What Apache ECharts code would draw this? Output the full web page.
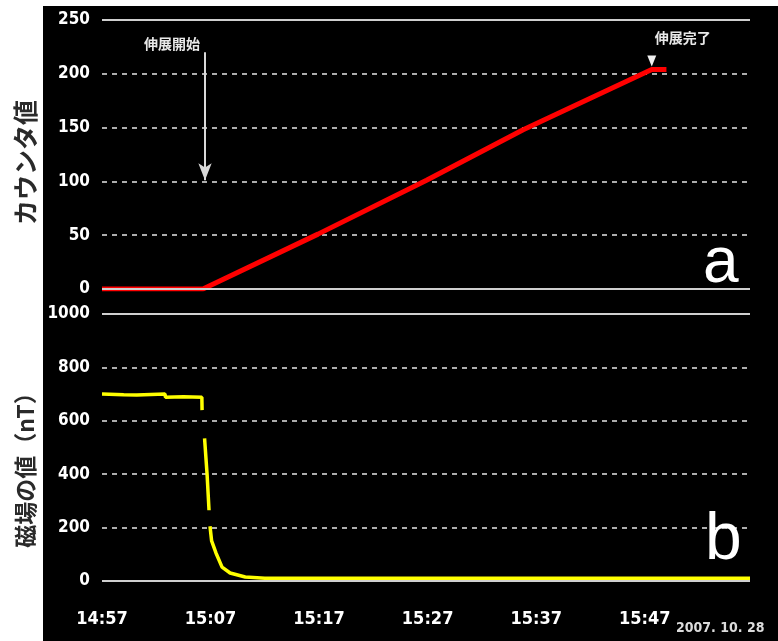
<!DOCTYPE html>
<html>
<head>
<meta charset="utf-8">
<script src="https://cdn.jsdelivr.net/npm/echarts@6/dist/echarts.min.js"></script>
<style>
  html, body { margin: 0; padding: 0; background: #fff; }
  #panel { position: absolute; left: 43px; top: 6px; width: 735px; height: 635px; background: #000; }
  #chart { position: absolute; left: 0; top: 0; width: 778px; height: 641px; }
</style>
</head>
<body>
<div id="panel"></div>
<div id="chart"></div>
<script>
// Elapsed minutes from 14:57 (2007.10.28)
const startMinuteOfDay = 14 * 60 + 57;
const xMax = 59.7;

// (a) counter value during boom extension
const counterTime  = [0, 9.3, 19.9, 29.9, 38.8, 50.65, 52];
const counterValue = [0, 0,   51,   101,  148,  204,   204];

// (b) magnetic field (nT); null marks gaps in the record
const magTime  = [0,   2.0, 3.2, 5.8, 5.85, 7.5, 9.2, 9.22, 9.3,  9.45, 9.68, 9.86, 9.9,  9.95, 10.1, 10.5, 11.06, 11.8, 13.2, 15, 30, 45, 59.7];
const magValue = [700, 698, 697, 700, 688,  690, 688, 640,  null, 534,  400,  265,  null, 205,  150,  105,  52,    30,   15,   10, 10, 10, 10];

// isolated red samples near the end of the magnetic record
const spikeTime  = [54.0, 56.2];
const spikeValue = [-2, -2];

// axis ticks
const counterTicks = { min: 0, max: 250, interval: 50 };
const magTicks     = { min: 0, max: 1000, interval: 200 };
const timeTicks    = { min: 0, interval: 10 };

// annotations
const startArrow = { t: 9.49, from: 220, to: 101, text: '伸展開始', textT: 6.45, textV: 228 };
const endMark    = { t: 50.65, v: 212, text: '伸展完了', textT: 53.5, textV: 234 };

const pairs = (xs, ys) => xs.map((x, i) => [x, ys[i]]);
const fmtTime = v => {
  const m = Math.round(startMinuteOfDay + v);
  const hh = Math.floor(m / 60), mm = m % 60;
  return hh + ':' + String(mm).padStart(2, '0');
};

const tickFont = { color: '#fff', fontFamily: 'DejaVu Sans Condensed', fontWeight: 'bold', fontSize: 17 };
const dashed = { show: true, lineStyle: { color: '#e6e6e6', width: 1.5, type: [5, 5] } };
const solidRef = { color: '#cfcfcf', width: 2, type: 'solid' };
const titleFont = { fontFamily: 'Noto Sans CJK JP', fontWeight: 'bold', color: '#2a2a2a' };
const noteFont = { color: '#e8e8e8', fontFamily: 'Noto Sans CJK JP', fontWeight: 'bold', fontSize: 14 };

const chart = echarts.init(document.getElementById('chart'), null, { renderer: 'canvas' });
chart.setOption({
  backgroundColor: 'transparent',
  animation: false,
  grid: [
    { left: 102, right: 28, top: 20, height: 269 },
    { left: 102, right: 28, top: 314, height: 267 }
  ],
  xAxis: [
    { gridIndex: 0, type: 'value', min: timeTicks.min, max: xMax, interval: timeTicks.interval,
      axisLine: { show: false }, axisTick: { show: false }, axisLabel: { show: false }, splitLine: { show: false } },
    { gridIndex: 1, type: 'value', min: timeTicks.min, max: xMax, interval: timeTicks.interval,
      axisLine: { show: false }, axisTick: { show: false }, splitLine: { show: false },
      axisLabel: Object.assign({ margin: 29, formatter: fmtTime, showMaxLabel: false }, tickFont, { fontSize: 18 }) }
  ],
  yAxis: [
    { gridIndex: 0, type: 'value', min: counterTicks.min, max: counterTicks.max, interval: counterTicks.interval,
      axisLine: { show: false }, axisTick: { show: false }, splitLine: dashed,
      axisLabel: Object.assign({ margin: 12, formatter: v => String(v) }, tickFont),
      name: 'カウンタ値', nameLocation: 'middle', nameGap: 64,
      nameTextStyle: Object.assign({ fontSize: 25, padding: [0, 16, 0, 0] }, titleFont) },
    { gridIndex: 1, type: 'value', min: magTicks.min, max: magTicks.max, interval: magTicks.interval,
      axisLine: { show: false }, axisTick: { show: false }, splitLine: dashed,
      axisLabel: Object.assign({ margin: 12, formatter: v => String(v) }, tickFont),
      name: '磁場の値（nT）', nameLocation: 'middle', nameGap: 62,
      nameTextStyle: Object.assign({ fontSize: 23, padding: [0, 34, 0, 0] }, titleFont) }
  ],
  series: [
    { // frame of panel a + extension annotations
      type: 'line', xAxisIndex: 0, yAxisIndex: 0, data: [], z: 1, silent: true,
      markLine: {
        silent: true, animation: false, symbol: 'none', label: { show: false }, lineStyle: solidRef,
        data: [
          { yAxis: counterTicks.max },
          { yAxis: 0 },
          [
            { coord: [startArrow.t, startArrow.from], symbol: 'none',
              lineStyle: { color: '#d8d8d8', width: 2, type: 'solid' } },
            { coord: [startArrow.t, startArrow.to], symbol: 'arrow', symbolSize: [10, 17] }
          ]
        ]
      },
      markPoint: {
        silent: true, animation: false,
        data: [
          { coord: [startArrow.textT, startArrow.textV], symbol: 'circle', symbolSize: 1,
            itemStyle: { color: 'transparent' },
            label: Object.assign({ show: true, position: 'inside', formatter: startArrow.text }, noteFont) },
          { coord: [endMark.textT, endMark.textV], symbol: 'circle', symbolSize: 1,
            itemStyle: { color: 'transparent' },
            label: Object.assign({ show: true, position: 'inside', formatter: endMark.text }, noteFont) },
          { coord: [endMark.t, endMark.v], symbol: 'triangle', symbolRotate: 180, symbolSize: [9, 11],
            itemStyle: { color: '#f0f0f0' }, label: { show: false } }
        ]
      }
    },
    { // counter value
      type: 'line', xAxisIndex: 0, yAxisIndex: 0, z: 3,
      data: pairs(counterTime, counterValue), showSymbol: false,
      lineStyle: { color: '#ff0000', width: 5 }
    },
    { // frame of panel b
      type: 'line', xAxisIndex: 1, yAxisIndex: 1, data: [], z: 1, silent: true,
      markLine: {
        silent: true, animation: false, symbol: 'none', label: { show: false }, lineStyle: solidRef,
        data: [{ yAxis: magTicks.max }, { yAxis: 0 }]
      }
    },
    { // magnetic field
      type: 'line', xAxisIndex: 1, yAxisIndex: 1, z: 3,
      data: pairs(magTime, magValue), showSymbol: false, connectNulls: false,
      lineStyle: { color: '#ffff00', width: 3.5 }
    },
    {
      type: 'scatter', xAxisIndex: 1, yAxisIndex: 1, z: 4,
      data: pairs(spikeTime, spikeValue), symbolSize: 4,
      itemStyle: { color: '#ff2020' }
    }
  ],
  graphic: [
    { type: 'text', left: 703, top: 232, z: 10,
      style: { text: 'a', fill: '#fff', font: '64px "Liberation Sans Narrow", "Liberation Sans", sans-serif' } },
    { type: 'text', left: 705, top: 508, z: 10,
      style: { text: 'b', fill: '#fff', font: '66px "Liberation Sans Narrow", "Liberation Sans", sans-serif' } },
    { type: 'text', left: 676, top: 621, z: 10,
      style: { text: '2007. 10. 28', fill: '#dcdcdc', font: 'bold 14px "DejaVu Sans Condensed", sans-serif' } }
  ]
});
</script>
</body>
</html>
